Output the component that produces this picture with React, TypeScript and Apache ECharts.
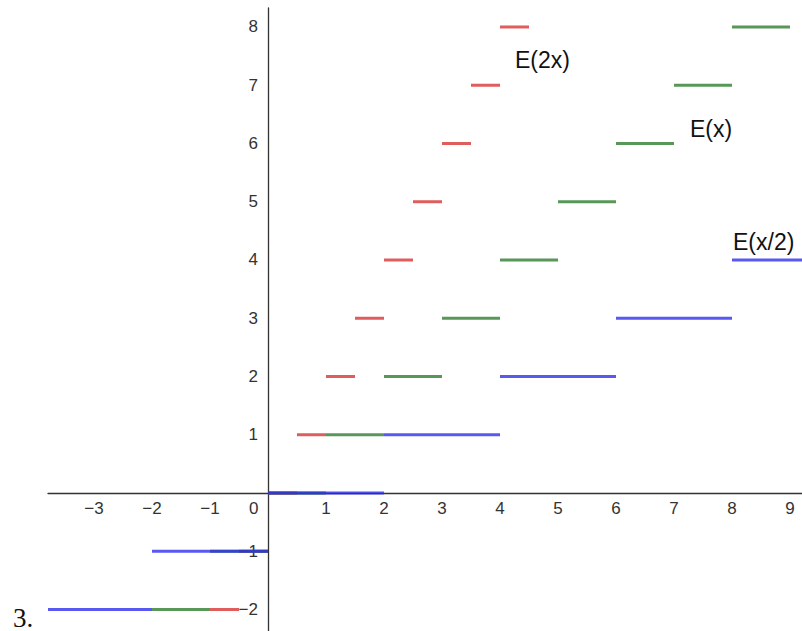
import React, { useEffect, useRef } from "react";
import * as echarts from "echarts";

// segments: [xStart, xEnd, level]
const redSegments: number[][] = [
  [-1, -0.5, -2], [-0.5, 0, -1], [0, 0.5, 0], [0.5, 1, 1], [1, 1.5, 2], [1.5, 2, 3],
  [2, 2.5, 4], [2.5, 3, 5], [3, 3.5, 6], [3.5, 4, 7], [4, 4.5, 8],
];
const greenSegments: number[][] = [
  [-2, -1, -2], [-1, 0, -1], [0, 1, 0], [1, 2, 1], [2, 3, 2], [3, 4, 3],
  [4, 5, 4], [5, 6, 5], [6, 7, 6], [7, 8, 7], [8, 9, 8],
];
const blueSegments: number[][] = [
  [-4, -2, -2], [-2, 0, -1], [0, 2, 0], [2, 4, 1], [4, 6, 2], [6, 8, 3], [8, 10, 4],
];
const xTicks = [-3, -2, -1, 1, 2, 3, 4, 5, 6, 7, 8, 9];
const yTicks = [-2, -1, 1, 2, 3, 4, 5, 6, 7, 8];
const seriesNames = ["E(2x)", "E(x)", "E(x/2)"];

const COLORS = ["#d6302f", "#2a7a2a", "#2a2aee"];
const X_MIN = -3.793;
const X_MAX = 9.207;
const Y_MIN = -2.369;
const Y_MAX = 8.326;

function fmt(v: number) {
  return v < 0 ? "\u2212" + Math.abs(v) : String(v);
}

function makeSeries(name: string, data: number[][], color: string) {
  return {
    type: "custom",
    name,
    data,
    encode: { x: [0, 1], y: 2 },
    renderItem: (params: any, api: any) => {
      const cs = params.coordSys;
      const p1 = api.coord([api.value(0), api.value(2)]);
      const p2 = api.coord([api.value(1), api.value(2)]);
      const x1 = Math.max(cs.x, Math.min(cs.x + cs.width, p1[0]));
      const x2 = Math.max(cs.x, Math.min(cs.x + cs.width, p2[0]));
      return {
        type: "line",
        shape: { x1, y1: p1[1], x2, y2: p2[1] },
        style: { stroke: color, lineWidth: 3, opacity: 0.78 },
      };
    },
  };
}

export default function App() {
  const ref = useRef<HTMLDivElement>(null);
  useEffect(() => {
    document.body.style.margin = "0";
    const chart = echarts.init(ref.current!, null, { renderer: "svg" });
    const font = "'Liberation Sans', Arial, sans-serif";
    const gridLeft = 48;
    const gridTop = 8;
    const baseOption: any = {
      animation: false,
      backgroundColor: "#ffffff",
      grid: { left: gridLeft, right: 0, top: gridTop, bottom: 0, containLabel: false, outerBoundsMode: "none" },
      xAxis: {
        type: "value",
        min: X_MIN,
        max: X_MAX,
        axisLine: { show: true, onZero: false, lineStyle: { color: "#333", width: 1.3 } },
        axisTick: { show: false },
        splitLine: { show: false },
        axisLabel: {
          customValues: xTicks,
          formatter: (v: number) => fmt(v),
          color: "#333",
          fontSize: 17,
          fontFamily: font,
          margin: 7,
        },
      },
      yAxis: {
        type: "value",
        min: Y_MIN,
        max: Y_MAX,
        axisLine: { show: true, onZero: false, lineStyle: { color: "#333", width: 1.3 } },
        axisTick: { show: false },
        splitLine: { show: false },
        axisLabel: {
          customValues: yTicks,
          formatter: (v: number) => fmt(v),
          color: "#333",
          fontSize: 17,
          fontFamily: font,
          margin: 10,
        },
      },
      series: [
        makeSeries(seriesNames[0], redSegments, COLORS[0]),
        makeSeries(seriesNames[1], greenSegments, COLORS[1]),
        makeSeries(seriesNames[2], blueSegments, COLORS[2]),
      ],
    };
    chart.setOption(baseOption);
    const origin = chart.convertToPixel({ gridIndex: 0 }, [0, 0]) as number[];
    const bottomPx = 631;
    chart.setOption({
      xAxis: { offset: -(bottomPx - origin[1]) },
      yAxis: { offset: -(origin[0] - gridLeft) },
      graphic: [
        { type: "text", left: 515, top: 48, style: { text: seriesNames[0], fontSize: 23, fontFamily: font, fill: "#111" } },
        { type: "text", left: 690, top: 117, style: { text: seriesNames[1], fontSize: 23, fontFamily: font, fill: "#111" } },
        { type: "text", left: 733, top: 230, style: { text: seriesNames[2], fontSize: 23, fontFamily: font, fill: "#111" } },
        { type: "text", left: origin[0] - 19, top: origin[1] + 7, style: { text: "0", fontSize: 17, fontFamily: font, fill: "#333" } },
        { type: "text", left: 13, top: 604, style: { text: "3.", fontSize: 27, fontFamily: "'Liberation Serif', 'DejaVu Serif', serif", fill: "#111" } },
      ],
    });
    return () => chart.dispose();
  }, []);
  return <div ref={ref} style={{ width: 802, height: 631 }} />;
}
